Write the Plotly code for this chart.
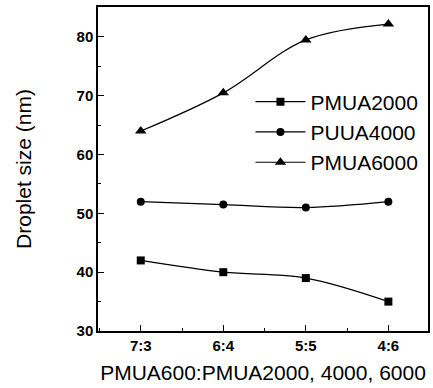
import plotly.graph_objects as go

categories = ["7:3", "6:4", "5:5", "4:6"]
pmua2000 = [42, 40, 39, 35]
puua4000 = [52, 51.5, 51, 52]
pmua6000 = [64, 70.5, 79.5, 82.2]
series_names = ["PMUA2000", "PUUA4000", "PMUA6000"]
symbols = ["square", "circle", "triangle-up"]
sizes = [8, 8, 10]

x = list(range(len(categories)))
fig = go.Figure()
for name, vals, sym, sz in zip(series_names, [pmua2000, puua4000, pmua6000], symbols, sizes):
    fig.add_trace(go.Scatter(
        x=x, y=vals, name=name, mode="lines+markers",
        line=dict(color="black", width=1.2, shape="spline", smoothing=1.0),
        marker=dict(symbol=sym, size=sz, color="black"),
    ))

font = "Liberation Sans, Arial, sans-serif"
fig.update_layout(
    width=433, height=388,
    margin=dict(l=98, r=3, t=7, b=57),
    paper_bgcolor="white", plot_bgcolor="white",
    showlegend=True,
    legend=dict(x=0.462, y=0.77, xanchor="left", yanchor="top",
                font=dict(family=font, size=21, color="black"),
                bgcolor="rgba(0,0,0,0)", tracegroupgap=0, itemwidth=50),
    font=dict(family=font, color="black"),
)
fig.update_xaxes(
    range=[-0.518, 3.48], tickmode="array", tickvals=x, ticktext=categories,
    ticks="inside", ticklen=6, tickcolor="black",
    minor=dict(ticks="inside", ticklen=3, dtick=0.5, tick0=0, tickcolor="black"),
    showline=True, linecolor="black", linewidth=1.5, mirror=True,
    showgrid=False, zeroline=False,
    tickfont=dict(family=font, size=15, color="black", weight="bold"),
    title=dict(text="PMUA600:PMUA2000, 4000, 6000", font=dict(family=font, size=21, color="black"), standoff=13),
)
fig.update_yaxes(
    range=[30, 85.1], tickmode="linear", tick0=30, dtick=10,
    ticks="inside", ticklen=6, tickcolor="black",
    minor=dict(ticks="inside", ticklen=3, dtick=5, tick0=30, tickcolor="black"),
    showline=True, linecolor="black", linewidth=1.5, mirror=True,
    showgrid=False, zeroline=False,
    tickfont=dict(family=font, size=15, color="black", weight="bold"),
    title=dict(text="Droplet size (nm)", font=dict(family=font, size=21, color="black"), standoff=39),
)
fig.write_html("out.html")
